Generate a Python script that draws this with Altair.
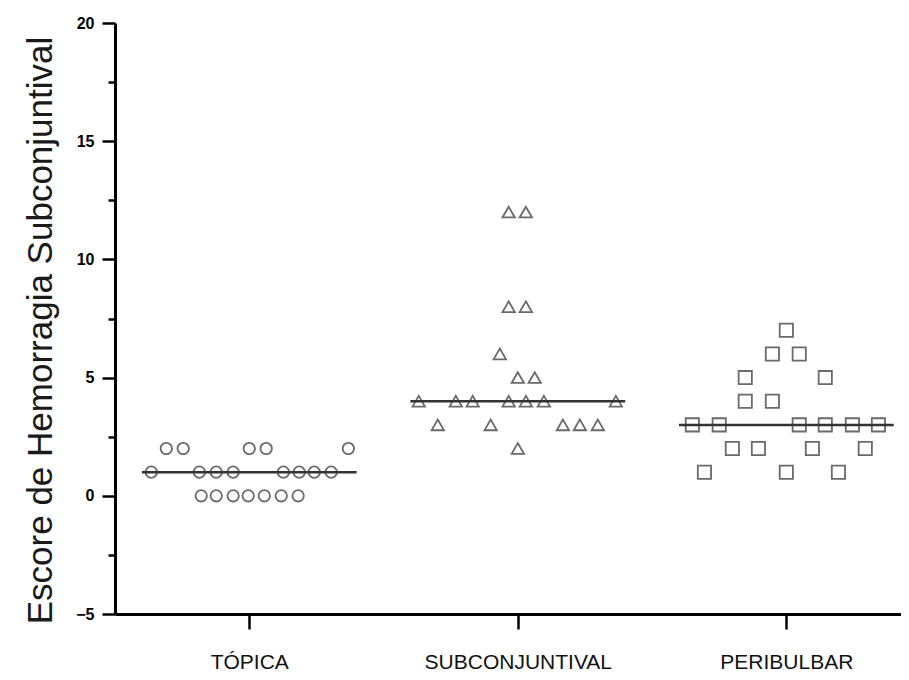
import altair as alt
import pandas as pd

# Categories (x axis)
categories = ["TÓPICA", "SUBCONJUNTIVAL", "PERIBULBAR"]
shapes = ["circle", "triangle-up", "square"]
medians = [1, 4, 3]

# Scores, with horizontal spread (in category units)
topica_y = [2, 2, 2, 2, 2, 1, 1, 1, 1, 1, 1, 1, 1, 0, 0, 0, 0, 0, 0, 0]
topica_dx = [-0.309, -0.246, 0.0, 0.063, 0.369,
             -0.365, -0.186, -0.123, -0.060, 0.127, 0.186, 0.242, 0.305,
             -0.179, -0.123, -0.060, -0.004, 0.056, 0.119, 0.182]

subconj_y = [12, 12, 8, 8, 6, 5, 5, 4, 4, 4, 4, 4, 4, 4, 3, 3, 3, 3, 3, 2]
subconj_dx = [-0.034, 0.030, -0.034, 0.030, -0.067, 0.0, 0.063,
              -0.369, -0.231, -0.168, -0.034, 0.030, 0.097, 0.365,
              -0.298, -0.101, 0.168, 0.231, 0.298, 0.0]

peri_y = [7, 6, 6, 5, 5, 4, 4, 3, 3, 3, 3, 3, 3, 2, 2, 2, 2, 1, 1, 1]
peri_dx = [0.0, -0.052, 0.048, -0.153, 0.145, -0.153, -0.052,
           -0.350, -0.250, 0.048, 0.145, 0.246, 0.343,
           -0.201, -0.104, 0.097, 0.294, -0.305, 0.0, 0.194]

groups_y = [topica_y, subconj_y, peri_y]
groups_dx = [topica_dx, subconj_dx, peri_dx]

rows = []
for i, (ys, dxs) in enumerate(zip(groups_y, groups_dx)):
    for yv, dx in zip(ys, dxs):
        rows.append({"grupo": categories[i], "pos": i + 1 + dx, "escore": yv})
points = pd.DataFrame(rows)

med = pd.DataFrame({
    "grupo": categories,
    "x1": [i + 1 - 0.4 for i in range(3)],
    "x2": [i + 1 + 0.4 for i in range(3)],
    "mediana": medians,
})

label_js = "[" + ",".join("'" + c + "'" for c in categories) + "][datum.value - 1]"

x_scale = alt.Scale(domain=[0.5, 3.427], nice=False, zero=False)
y_scale = alt.Scale(domain=[-5, 20], nice=False, zero=False)

x_axis = alt.Axis(
    values=[1, 2, 3], labelExpr=label_js, title=None, grid=False,
    domainColor="black", domainWidth=3, tickColor="black", tickWidth=2.5,
    tickSize=15, labelFont="Liberation Sans", labelFontSize=21,
    labelColor="#111", labelPadding=22, labelBaseline="top", labelLimit=0,
)
y_axis = alt.Axis(
    values=[-5, -2.5, 0, 2.5, 5, 7.5, 10, 12.5, 15, 17.5, 20],
    labelExpr="datum.value % 5 == 0 ? datum.label : ''",
    title="Escore de Hemorragia Subconjuntival", grid=False,
    domainColor="black", domainWidth=3, tickColor="black", tickWidth=2.5,
    tickSize=alt.ConditionalAxisNumber(
        condition={"test": "datum.value % 5 == 0", "value": 13}, value=7),
    labelFont="Liberation Sans", labelFontSize=16, labelFontWeight="bold",
    labelColor="black", labelPadding=8,
    titleFont="Liberation Sans", titleFontSize=35, titleFontWeight="normal",
    titleColor="#1a1a1a", titleX=-75, titleY=307, titleBaseline="middle",
    titleAngle=270,
)

pts = alt.Chart(points).mark_point(
    filled=False, strokeWidth=1.8, color="#6a6a6a", opacity=1
).encode(
    x=alt.X("pos:Q", scale=x_scale, axis=x_axis),
    y=alt.Y("escore:Q", scale=y_scale, axis=y_axis),
    shape=alt.Shape("grupo:N", scale=alt.Scale(domain=categories, range=shapes), legend=None),
    size=alt.Size("grupo:N", scale=alt.Scale(domain=categories, range=[130, 175, 115]), legend=None),
)

lines = alt.Chart(med).mark_rule(color="#333333", strokeWidth=2.5).encode(
    x="x1:Q", x2="x2:Q", y="mediana:Q"
)

chart = alt.layer(pts, lines).properties(
    width=786, height=591,
    autosize=alt.AutoSizeParams(type="none"),
    padding={"left": 107, "top": 15, "right": 0, "bottom": 58},
).configure_view(stroke=None)

chart.save("out.html", embed_options={"renderer": "svg", "actions": False})
